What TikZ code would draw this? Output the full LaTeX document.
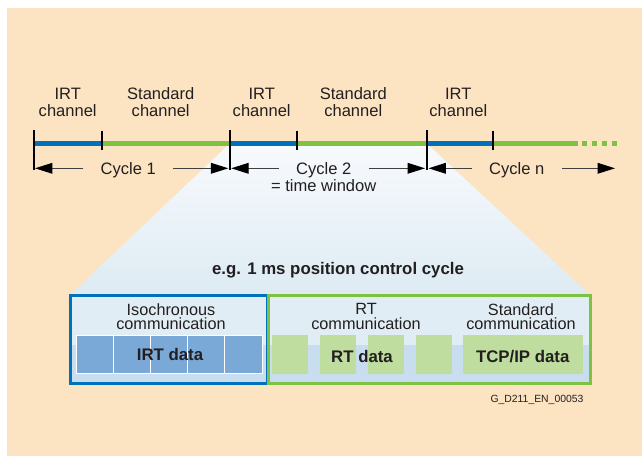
\documentclass[tikz,border=0pt]{standalone}
\usepackage{fontspec}
\setmainfont{Liberation Sans}
\usepackage{xcolor}
\usepackage{tikz}
\usetikzlibrary{arrows.meta,positioning,calc}
\tikzset{
  lbl/.style    ={font=\fontsize{12.4}{13}\selectfont, text=txtgray,
                  align=center, inner sep=0pt, text depth=0pt},
  boxlbl/.style ={lbl, font=\fontsize{12.2}{10.8}\selectfont},
  datalbl/.style={font=\fontsize{12.6}{14}\selectfont\bfseries,
                  text=txtgray, inner sep=0pt, text depth=0pt},
  codelbl/.style={font=\fontsize{7.8}{9}\selectfont, text=txtgray,
                  inner sep=0pt, text depth=0pt},
  cyclbl/.style ={lbl, inner xsep=13pt},
  cycarr/.style ={-{Triangle[length=13pt,width=8pt,color=black]},
                  line width=0.8pt, draw=black!75},
  irtseg/.style ={line width=4pt, draw=irtline},
  stdseg/.style ={line width=4pt, draw=stdline},
  tickln/.style ={line width=1.5pt, draw=black},
  irtblk/.style ={draw=white, line width=0.75pt, fill=irtfill,
                  anchor=north west, minimum width=27.8pt,
                  minimum height=29pt, inner sep=0pt, outer sep=0pt},
  rtblk/.style  ={fill=rtfill, anchor=north west, minimum height=29pt,
                  inner sep=0pt, outer sep=0pt},
}
\definecolor{bgpeach} {RGB}{252,227,193}
\definecolor{irtline} {RGB}{0,114,188}
\definecolor{stdline} {RGB}{125,194,66}
\definecolor{irtfill} {RGB}{122,169,216}
\definecolor{rtfill}  {RGB}{190,221,158}
\definecolor{boxtop}  {RGB}{225,237,244}
\definecolor{boxband} {RGB}{200,221,239}
\definecolor{traptop} {RGB}{248,250,253}
\definecolor{trapbot} {RGB}{221,235,243}
\definecolor{txtgray} {RGB}{35,31,32}

\begin{document}
\begin{tikzpicture}[x=0.75pt,y=-0.75pt]
  \useasboundingbox (0,0) rectangle (642,456);
  \fill[bgpeach] (7,8) rectangle (642,456);

  \coordinate (t0) at (34,143.3);
  \coordinate (t1) at (101.5,143.3);
  \coordinate (t2) at (230,143.3);
  \coordinate (t3) at (296.5,143.3);
  \coordinate (t4) at (426.5,143.3);
  \coordinate (t5) at (492.5,143.3);
  \coordinate (tend) at (577.5,143.3);
  \coordinate (tdot) at (582,143.3);
  \coordinate (tfar) at (622,143.3);

  % zoomed window
  \shade[top color=traptop, bottom color=trapbot]
    (t2) -- (t4) -- (590,295) -- (70,295) -- cycle;
  \fill[boxtop]  (70,295) rectangle (590,345);
  \fill[boxband] (70,345) rectangle (590,383.5);

  \foreach \i in {1,...,5}
    \node[irtblk] (irt\i) at ({76.7+37.06*(\i-1)},335) {};
  \foreach \x/\w [count=\i] in {272/35.7,320/36,368/36,416/36,463.3/119.4}
    \node[rtblk, minimum width=\w*0.75pt] (rt\i) at (\x,335) {};

  \draw[irtline, line width=2.25pt] (70,295) rectangle (267,383.5);
  \draw[stdline, line width=2.25pt] (268,295) rectangle (590,383.5);

  % time line
  \draw[irtseg] (t0) -- (t1);
  \draw[stdseg] (t1) -- (t2);
  \draw[irtseg] (t2) -- (t3);
  \draw[stdseg] (t3) -- (t4);
  \draw[irtseg] (t4) -- (t5);
  \draw[stdseg] (t5) -- (tend);
  \draw[stdseg, dash pattern=on 3.75pt off 3.75pt] (tdot) -- (tfar);
  \foreach \x in {34,230,426.5}
    \draw[tickln] (\x,130) -- (\x,170.5);
  \foreach \x in {101.5,296.5,492.5}
    \draw[tickln] (\x,130.7) -- (\x,150);

  \node[lbl] (irtch1) at (67.7,102)  {IRT\\channel};
  \node[lbl] (stdch1) at (160.7,102) {Standard\\channel};
  \node[lbl] (irtch2) at (261.7,102) {IRT\\channel};
  \node[lbl] (stdch2) at (353.3,102) {Standard\\channel};
  \node[lbl] (irtch3) at (458.3,102) {IRT\\channel};

  \coordinate (a0) at (35,168.3);
  \coordinate (a1) at (228.3,168.3);
  \coordinate (a2) at (231.2,168.3);
  \coordinate (a3) at (425,168.3);
  \coordinate (a4) at (428.5,168.3);
  \coordinate (a5) at (615,168.3);
  \node[cyclbl] (cyc1) at (128.3,168.3) {Cycle 1};
  \node[cyclbl] (cyc2) at (323.7,168.3) {Cycle 2};
  \node[cyclbl] (cycn) at (516.7,168.3) {Cycle n};
  \node[lbl, anchor=base] (twin) at (323.7,191) {= time window};
  \draw[cycarr] (cyc1.west) -- (a0);
  \draw[cycarr] (cyc1.east) -- (a1);
  \draw[cycarr] (cyc2.west) -- (a2);
  \draw[cycarr] (cyc2.east) -- (a3);
  \draw[cycarr] (cycn.west) -- (a4);
  \draw[cycarr] (cycn.east) -- (a5);

  \node[datalbl] (title) at (338,268.8) {e.g. 1 ms position control cycle};
  \node[boxlbl] (isocom) at (171,316.5) {Isochronous\\communication};
  \node[boxlbl] (rtcom)  at (366,316.5) {RT\\communication};
  \node[boxlbl] (stdcom) at (521,316.5) {Standard\\communication};
  \node[datalbl] (irtdata) at (170,354.3) {IRT data};
  \node[datalbl] (rtdata)  at (362,356)   {RT data};
  \node[datalbl] (tcpdata) at (522.7,356) {TCP/IP data};
  \node[codelbl] (figcode) at (537,398.5) {G\_D211\_EN\_00053};
\end{tikzpicture}
\end{document}
